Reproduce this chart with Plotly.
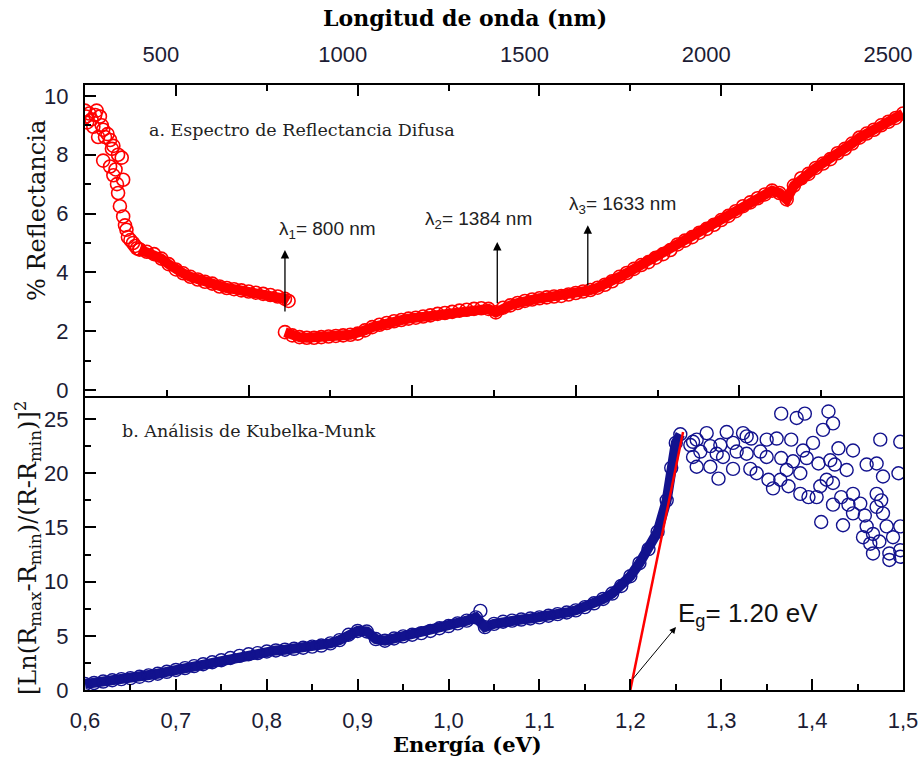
import plotly.graph_objects as go

# ---------------- Data ----------------
# Diffuse reflectance (%) vs wavelength (nm): noisy UV start, visible branch, NIR branch
lam_uv = [250, 253, 256, 262, 268, 273, 278, 282, 286, 291, 296, 300, 300, 305, 312, 319, 319,
          324, 328, 328, 334, 338, 341, 341, 346, 351, 355, 355, 360, 364, 368, 375, 382, 388,
          393, 400]
refl_uv = [9.5, 9.3, 9.1, 9.4, 9.2, 8.95, 9.35, 9.5, 8.6, 9.3, 9.0, 8.85, 7.8, 8.6, 8.7, 8.5, 7.6,
           8.2, 8.3, 7.3, 7.5, 7.0, 8.0, 6.7, 6.25, 7.9, 7.15, 5.9, 5.6, 5.45, 5.2, 5.1, 5.0, 4.9,
           4.82, 4.78]

lam_vis = [400, 420, 440, 460, 480, 500, 520, 540, 560, 580, 600, 620, 640, 660, 680, 700, 720,
           740, 760, 780, 800, 810]
refl_vis = [4.78, 4.7, 4.62, 4.47, 4.28, 4.1, 3.97, 3.85, 3.76, 3.68, 3.62, 3.52, 3.47, 3.43, 3.39,
            3.35, 3.31, 3.27, 3.23, 3.18, 3.1, 3.03]

lam_nir = [800, 820, 840, 860, 880, 900, 920, 940, 960, 980, 1000, 1020, 1040, 1060, 1080, 1100,
           1120, 1140, 1160, 1180, 1200, 1220, 1240, 1260, 1280, 1300, 1320, 1340, 1360, 1380,
           1400, 1420, 1440, 1460, 1480, 1500, 1520, 1540, 1560, 1580, 1600, 1620, 1640, 1660,
           1680, 1700, 1720, 1740, 1760, 1780, 1800, 1820, 1840, 1860, 1880, 1900, 1920, 1940,
           1960, 1980, 2000, 2020, 2040, 2060, 2080, 2100, 2120, 2140, 2160, 2180, 2200, 2220,
           2240, 2260, 2280, 2300, 2320, 2340, 2360, 2380, 2400, 2420, 2440, 2460, 2480, 2500]
refl_nir = [1.97, 1.86, 1.8, 1.78, 1.78, 1.8, 1.82, 1.84, 1.86, 1.88, 1.92, 2.03, 2.14, 2.22, 2.28,
            2.34, 2.38, 2.43, 2.46, 2.5, 2.54, 2.59, 2.62, 2.66, 2.7, 2.73, 2.76, 2.78, 2.76, 2.64,
            2.8, 2.88, 2.96, 3.03, 3.08, 3.12, 3.15, 3.18, 3.2, 3.25, 3.3, 3.35, 3.4, 3.48,
            3.58, 3.7, 3.85, 3.98, 4.12, 4.25, 4.35, 4.5, 4.62, 4.76, 4.95, 5.08, 5.2, 5.35,
            5.48, 5.62, 5.78, 5.92, 6.08, 6.25, 6.38, 6.52, 6.65, 6.78, 6.7, 6.48, 6.95, 7.2,
            7.35, 7.55, 7.7, 7.85, 8.05, 8.2, 8.38, 8.58, 8.72, 8.85, 9.0, 9.12, 9.25, 9.4]

# Absorption features marked on the spectrum (nm) and arrow extents (% R)
feature_lam = [800, 1384, 1633]
feature_tail = [2.62, 2.9, 3.5]
feature_head = [4.76, 5.03, 5.6]

# Kubelka-Munk function vs photon energy (eV)
energy_band = [0.60, 0.61, 0.62, 0.63, 0.64, 0.65, 0.66, 0.67, 0.68, 0.69, 0.70, 0.71, 0.72, 0.73,
               0.74, 0.75, 0.76, 0.77, 0.78, 0.79, 0.80, 0.81, 0.82, 0.83, 0.84, 0.85, 0.86, 0.87,
               0.88, 0.89, 0.90, 0.91, 0.92, 0.93, 0.94, 0.95, 0.96, 0.97, 0.98, 0.99, 1.00, 1.01,
               1.02, 1.03, 1.04, 1.05, 1.06, 1.07, 1.08, 1.09, 1.10, 1.11, 1.12, 1.13, 1.14, 1.15,
               1.16, 1.17, 1.18, 1.19, 1.20, 1.21, 1.22, 1.23, 1.24, 1.245, 1.25, 1.255]
km_band = [0.55, 0.65, 0.78, 0.9, 1.0, 1.1, 1.22, 1.35, 1.5, 1.68, 1.85, 2.02, 2.2, 2.38,
           2.56, 2.75, 2.95, 3.15, 3.3, 3.4, 3.55, 3.65, 3.72, 3.8, 3.9, 4.0, 4.1, 4.3,
           4.6, 5.1, 5.45, 5.4, 4.7, 4.55, 4.75, 4.95, 5.1, 5.25, 5.45, 5.7, 5.9, 6.15,
           6.4, 6.7, 5.8, 6.1, 6.3, 6.4, 6.5, 6.6, 6.7, 6.85, 7.0, 7.15, 7.35, 7.65,
           8.0, 8.4, 8.9, 9.6, 10.5, 11.7, 13.0, 14.6, 17.5, 20.5, 22.8, 23.6]

energy_sat = [1.035, 1.266, 1.269, 1.269, 1.273, 1.273, 1.277, 1.284, 1.288, 1.288, 1.295, 1.297,
              1.299, 1.302, 1.306, 1.313, 1.313, 1.317, 1.324, 1.328, 1.328, 1.332, 1.333, 1.339,
              1.343, 1.350, 1.350, 1.352, 1.357, 1.361, 1.365, 1.366, 1.366, 1.372, 1.374, 1.377,
              1.379, 1.383, 1.387, 1.387, 1.390, 1.392, 1.394, 1.396, 1.401, 1.405, 1.407, 1.409,
              1.410, 1.412, 1.416, 1.418, 1.420, 1.423, 1.423, 1.423, 1.425, 1.429, 1.432, 1.434,
              1.438, 1.440, 1.445, 1.445, 1.445, 1.453, 1.456, 1.458, 1.460, 1.460, 1.464, 1.467,
              1.467, 1.471, 1.471, 1.471, 1.474, 1.475, 1.476, 1.478, 1.478, 1.482, 1.485, 1.485,
              1.489, 1.495, 1.497, 1.497, 1.497, 1.497]
km_sat = [7.3, 22.6, 21.5, 22.9, 23.1, 20.6, 22.0, 23.7, 22.5, 20.6, 21.8, 19.5,
          22.6, 21.5, 23.8, 22.8, 20.4, 22.0, 23.7, 21.8, 23.4, 20.4, 23.2, 20.0,
          22.0, 21.5, 23.1, 19.4, 18.6, 23.2, 19.4, 25.5, 21.4, 20.3, 18.8, 23.1,
          21.1, 25.1, 18.1, 20.0, 22.1, 25.5, 21.4, 17.8, 22.8, 17.8, 20.9, 18.8,
          15.5, 24.0, 19.4, 25.7, 21.2, 24.6, 19.1, 17.1, 20.8, 22.3, 17.8, 15.2,
          20.3, 17.1, 22.1, 18.1, 16.3, 17.2, 14.1, 16.1, 20.8, 15.1, 13.5, 14.4,
          12.6, 20.9, 18.1, 16.9, 13.7, 23.1, 17.5, 19.7, 16.3, 15.1, 12.6, 12.0,
          14.1, 20.0, 22.9, 15.1, 12.9, 12.3]

# Linear fit of the absorption edge; it crosses zero at the band gap
eg_value = 1.20
fit_energy = [eg_value, 1.258]
fit_km = [0.0, 23.8]

# Axis ticks
wl_ticks = [500, 1000, 1500, 2000, 2500]
wl_minor = [750, 1250, 1750, 2250]
en_ticks = [0.6, 0.7, 0.8, 0.9, 1.0, 1.1, 1.2, 1.3, 1.4, 1.5]
en_labels = ["0,6", "0,7", "0,8", "0,9", "1,0", "1,1", "1,2", "1,3", "1,4", "1,5"]
en_minor = [0.65, 0.75, 0.85, 0.95, 1.05, 1.15, 1.25, 1.35, 1.45]

# ---------------- Styling ----------------
RED = "#ff0000"
NAVY = "#12128e"
SERIF = "DejaVu Serif"
SANS = "Liberation Sans"
TICK_COLOR = "#1c1c34"

open_red = dict(symbol="circle-open", size=13, color=RED, line=dict(width=1.6))
open_navy = dict(symbol="circle-open", size=13, color=NAVY, line=dict(width=1.4))

fig = go.Figure()

# Placeholder on the lower frame axis of the upper panel (carries only tick marks)
fig.add_trace(go.Scatter(x=[None], y=[None], xaxis="x", yaxis="y", showlegend=False,
                         hoverinfo="skip"))

# Upper panel: reflectance spectrum
fig.add_trace(go.Scatter(x=lam_uv, y=refl_uv, xaxis="x3", yaxis="y", mode="markers",
                         marker=open_red, showlegend=False))
fig.add_trace(go.Scatter(x=lam_vis, y=refl_vis, xaxis="x3", yaxis="y", mode="lines+markers",
                         line=dict(color=RED, width=10), marker=open_red, showlegend=False))
fig.add_trace(go.Scatter(x=lam_nir, y=refl_nir, xaxis="x3", yaxis="y", mode="lines+markers",
                         line=dict(color=RED, width=10), marker=open_red, showlegend=False))

# Lower panel: Kubelka-Munk analysis
fig.add_trace(go.Scatter(x=energy_band, y=km_band, xaxis="x2", yaxis="y2", mode="lines+markers",
                         line=dict(color=NAVY, width=10), marker=open_navy, showlegend=False))
fig.add_trace(go.Scatter(x=energy_sat, y=km_sat, xaxis="x2", yaxis="y2", mode="markers",
                         marker=open_navy, showlegend=False))
fig.add_trace(go.Scatter(x=fit_energy, y=fit_km, xaxis="x2", yaxis="y2", mode="lines",
                         line=dict(color=RED, width=2.5), showlegend=False))

axis_common = dict(showgrid=False, zeroline=False, showline=True, linecolor="black",
                   linewidth=2, ticks="inside", tickcolor="black", tickwidth=2, ticklen=11,
                   automargin=False)
tickfont = dict(family=SANS, size=22, color=TICK_COLOR)

TOP_DOMAIN = [0.486, 1.0]
BOTTOM_DOMAIN = [0.0, 0.4826]

fig.update_layout(
    width=922, height=763,
    margin=dict(l=85, r=19, t=85, b=73, autoexpand=False),
    paper_bgcolor="white", plot_bgcolor="white",
    showlegend=False,
    xaxis=dict(axis_common, domain=[0, 1], anchor="y", range=[0, 10],
               tickvals=[2, 4, 6, 8], showticklabels=False,
               minor=dict(tickvals=[1, 3, 5, 7, 9], ticks="inside", ticklen=6,
                          tickcolor="black", tickwidth=2)),
    xaxis3=dict(axis_common, overlaying="x", anchor="y", side="top", range=[250, 2500],
                tickvals=wl_ticks, tickfont=tickfont, ticklabelshift=-15, ticklabelstandoff=12,
                minor=dict(tickvals=wl_minor, ticks="inside", ticklen=6, tickcolor="black",
                           tickwidth=2)),
    yaxis=dict(axis_common, domain=TOP_DOMAIN, anchor="x", range=[-0.2, 10.37], mirror=True,
               tickvals=[0, 2, 4, 6, 8, 10], tickfont=tickfont, ticklabelstandoff=10,
               minor=dict(tickvals=[1, 3, 5, 7, 9], ticks="inside", ticklen=6,
                          tickcolor="black", tickwidth=2)),
    xaxis2=dict(axis_common, domain=[0, 1], anchor="y2", range=[0.6, 1.5], mirror=True,
                tickvals=en_ticks, ticktext=en_labels, tickfont=tickfont, ticklabelstandoff=10,
                minor=dict(tickvals=en_minor, ticks="inside", ticklen=6, tickcolor="black",
                           tickwidth=2)),
    yaxis2=dict(axis_common, domain=BOTTOM_DOMAIN, anchor="x2", range=[0, 26.94], mirror=True,
                tickvals=[0, 5, 10, 15, 20, 25], tickfont=tickfont, ticklabelstandoff=10,
                minor=dict(tickvals=[2.5, 7.5, 12.5, 17.5, 22.5], ticks="inside", ticklen=6,
                           tickcolor="black", tickwidth=2)),
)

annotations = []

# Axis titles
annotations.append(dict(text="<b>Longitud de onda (nm)</b>", xref="paper", yref="paper",
                        x=0.4645, y=1.111, xanchor="center", yanchor="middle", showarrow=False,
                        font=dict(family=SERIF, size=22, color="black")))
annotations.append(dict(text="<b>Energía (eV)</b>", xref="paper", yref="paper",
                        x=0.467, y=-0.0909, xanchor="center", yanchor="middle", showarrow=False,
                        font=dict(family=SERIF, size=21, color="black")))
annotations.append(dict(text="% Reflectancia", xref="paper", yref="paper",
                        x=-0.0587, y=0.7934, xanchor="center", yanchor="middle", textangle=-90,
                        showarrow=False, font=dict(family=SERIF, size=24, color="#111")))
annotations.append(dict(text="[Ln(R<sub>max</sub>-R<sub>min</sub>)/(R-R<sub>min</sub>)]<sup>2</sup>",
                        xref="paper", yref="paper", x=-0.0709, y=0.2347, xanchor="center",
                        yanchor="middle", textangle=-90, showarrow=False,
                        font=dict(family=SERIF, size=24, color="#111")))

# Panel captions
annotations.append(dict(text="a. Espectro de Reflectancia Difusa", xref="paper", yref="paper",
                        x=0.0758, y=0.9256, xanchor="left", yanchor="middle", showarrow=False,
                        font=dict(family=SERIF, size=17.5, color="#222")))
annotations.append(dict(text="b. Análisis de Kubelka-Munk", xref="paper", yref="paper",
                        x=0.0428, y=0.4281, xanchor="left", yanchor="middle", showarrow=False,
                        font=dict(family=SERIF, size=17.5, color="#222")))

# Feature arrows and labels on the spectrum
label_pos = [(-22, 5.44), (-204, 5.78), (-57, 6.29)]
for i, (lam, tail, head) in enumerate(zip(feature_lam, feature_tail, feature_head)):
    annotations.append(dict(text="", x=lam, y=head, ax=lam, ay=tail, xref="x3", yref="y",
                            axref="x3", ayref="y", showarrow=True, arrowhead=2, arrowsize=1.3,
                            arrowwidth=1.3, arrowcolor="black", standoff=0, startstandoff=0))
    dx, ty = label_pos[i]
    annotations.append(dict(text=f"λ<sub>{i + 1}</sub>= {lam} nm", x=lam + dx, y=ty,
                            xref="x3", yref="y", xanchor="left", yanchor="middle",
                            showarrow=False, font=dict(family=SANS, size=19, color="#222")))

# Band gap label
annotations.append(dict(text="", x=1.2502, y=5.81, ax=1.2018, ay=0.92, xref="x2", yref="y2",
                        axref="x2", ayref="y2", showarrow=True, arrowhead=2, arrowsize=1.3,
                        arrowwidth=1, arrowcolor="black", standoff=0, startstandoff=0))
annotations.append(dict(text=f"E<sub>g</sub>= {eg_value:.2f} eV", x=1.2502, y=7.0,
                        xref="x2", yref="y2", xanchor="left", yanchor="middle",
                        showarrow=False, font=dict(family=SANS, size=26, color="#111")))

fig.update_layout(annotations=annotations)

fig.write_html("out.html")
